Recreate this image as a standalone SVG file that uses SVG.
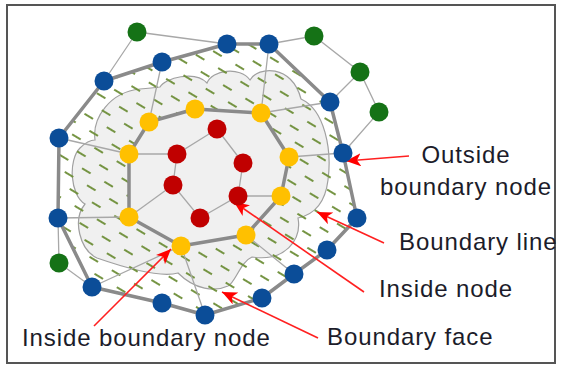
<svg xmlns="http://www.w3.org/2000/svg" width="561" height="367" viewBox="0 0 561 367">
<style>
.thick{stroke:#8a8a8a;stroke-width:3.5;fill:none;stroke-linejoin:round}
.thin{stroke:#a8a8a8;stroke-width:1.3;fill:none}
.blue{fill:#0b4d98}
.green{fill:#157216}
.yellow{fill:#ffc000}
.red{fill:#c00000}
.lbl{font-family:"Liberation Sans",Arial,sans-serif;font-size:24px;fill:#1c1c2a;letter-spacing:0.9px}
.arr{stroke:#ff2020;stroke-width:1.6;fill:none}
</style>
<defs>
<pattern id="hatch" patternUnits="userSpaceOnUse" width="26" height="24" patternTransform="rotate(31)">
<line x1="1" y1="6" x2="11" y2="6" stroke="#6f8f3a" stroke-width="1.9"/>
<line x1="14" y1="18" x2="24" y2="18" stroke="#6f8f3a" stroke-width="1.9"/>
</pattern>
<marker id="ah" markerUnits="userSpaceOnUse" markerWidth="17" markerHeight="14" refX="15" refY="6.5" orient="auto">
<path d="M0,0 L15,6.5 L0,13 L4,6.5 Z" fill="#ff0000"/>
</marker>
</defs>
<rect x="7" y="5" width="548" height="358" fill="#ffffff" stroke="#555555" stroke-width="2"/>
<g id="boundary-face">
<path d="M95,140 C92,118 110,92 140,89 Q152,88 160,87 C165,78 195,70 207,83 C212,70 240,66 250,80 C258,66 292,64 301,99 C325,110 332,150 328,180 C325,205 312,215 298,218 C302,240 285,262 252,257 C240,262 236,282 228,286 C215,292 195,290 178,273 C160,278 120,266 97,258 C80,250 72,220 85,204 C70,195 68,160 80,148 Q88,140 95,140 Z" fill="#f0f0f0" stroke="#a0a0a0" stroke-width="1.2"/>
<path d="M59,138 L104,81 L162,62 L227,44 L269,44 L330,102 L343,153 L357,218 L327,250 L294,274 L262,298 L205,315 L162,303 L92,287 L58,218 Z M149,122 L195,109 L261,113 L289,157 L281,196 L246,235 L181,246 L129,217 L129,154 Z" fill="url(#hatch)" fill-rule="evenodd"/>
</g>
<g id="connectors">
<path class="thin" d="M137,32 L104,81 M137,32 L227,44 M269,44 L314,36 L360,72 L379,112 L343,153 M360,72 L330,102 M58,218 L59,263 L92,287"/>
<path class="thin" d="M149,122 L162,62 M261,113 L269,44 M261,113 L330,102 M129,154 L59,138 M289,157 L343,153 M129,217 L58,218 M181,246 L92,287 M181,246 L205,315 M246,235 L294,274"/>
<path class="thin" d="M217,129 L243,163 L238,196 L200,218 L173,185 L177,154 Z M177,154 L129,154 M173,185 L129,217 M238,196 L281,196"/>
<path class="thick" d="M59,138 L104,81 L162,62 L227,44 L269,44 L330,102 L343,153 L357,218 L327,250 L294,274 L262,298 L205,315 L162,303 L92,287 L58,218 Z"/>
<path class="thick" d="M149,122 L195,109 L261,113 L289,157 L281,196 L246,235 L181,246 L129,217 L129,154 Z"/>
<g id="arrows">
<line class="arr" x1="409" y1="156" x2="346" y2="161" marker-end="url(#ah)"/>
<line class="arr" x1="384" y1="243" x2="317" y2="212" marker-end="url(#ah)"/>
<line class="arr" x1="364" y1="292" x2="234" y2="202" marker-end="url(#ah)"/>
<line class="arr" x1="318" y1="338" x2="222" y2="292" marker-end="url(#ah)"/>
<line class="arr" x1="94" y1="326" x2="171" y2="249" marker-end="url(#ah)"/>
</g>
</g>
<g id="outside-nodes">
<circle class="blue" cx="227" cy="44" r="9.5"/>
<circle class="blue" cx="269" cy="44" r="9.5"/>
<circle class="blue" cx="162" cy="62" r="9.5"/>
<circle class="blue" cx="104" cy="81" r="9.5"/>
<circle class="blue" cx="59" cy="138" r="9.5"/>
<circle class="blue" cx="58" cy="218" r="9.5"/>
<circle class="blue" cx="92" cy="287" r="9.5"/>
<circle class="blue" cx="162" cy="303" r="9.5"/>
<circle class="blue" cx="205" cy="315" r="9.5"/>
<circle class="blue" cx="262" cy="298" r="9.5"/>
<circle class="blue" cx="294" cy="274" r="9.5"/>
<circle class="blue" cx="327" cy="250" r="9.5"/>
<circle class="blue" cx="357" cy="218" r="9.5"/>
<circle class="blue" cx="343" cy="153" r="9.5"/>
<circle class="blue" cx="330" cy="102" r="9.5"/>
</g>
<g id="external-nodes">
<circle class="green" cx="137" cy="32" r="9.5"/>
<circle class="green" cx="314" cy="36" r="9.5"/>
<circle class="green" cx="360" cy="72" r="9.5"/>
<circle class="green" cx="379" cy="112" r="9.5"/>
<circle class="green" cx="59" cy="263" r="9.5"/>
</g>
<g id="inside-boundary-nodes">
<circle class="yellow" cx="195" cy="109" r="9.5"/>
<circle class="yellow" cx="149" cy="122" r="9.5"/>
<circle class="yellow" cx="261" cy="113" r="9.5"/>
<circle class="yellow" cx="129" cy="154" r="9.5"/>
<circle class="yellow" cx="289" cy="157" r="9.5"/>
<circle class="yellow" cx="281" cy="196" r="9.5"/>
<circle class="yellow" cx="246" cy="235" r="9.5"/>
<circle class="yellow" cx="181" cy="246" r="9.5"/>
<circle class="yellow" cx="129" cy="217" r="9.5"/>
</g>
<g id="inside-nodes">
<circle class="red" cx="217" cy="129" r="9.5"/>
<circle class="red" cx="177" cy="154" r="9.5"/>
<circle class="red" cx="243" cy="163" r="9.5"/>
<circle class="red" cx="173" cy="185" r="9.5"/>
<circle class="red" cx="238" cy="196" r="9.5"/>
<circle class="red" cx="200" cy="218" r="9.5"/>
</g>
<g id="labels">
<text class="lbl" x="466" y="163" text-anchor="middle">Outside</text>
<text class="lbl" x="466" y="195" text-anchor="middle">boundary node</text>
<text class="lbl" x="399" y="250">Boundary line</text>
<text class="lbl" x="379" y="297">Inside node</text>
<text class="lbl" x="327" y="345">Boundary face</text>
<text class="lbl" x="22" y="346">Inside boundary node</text>
</g>
</svg>
